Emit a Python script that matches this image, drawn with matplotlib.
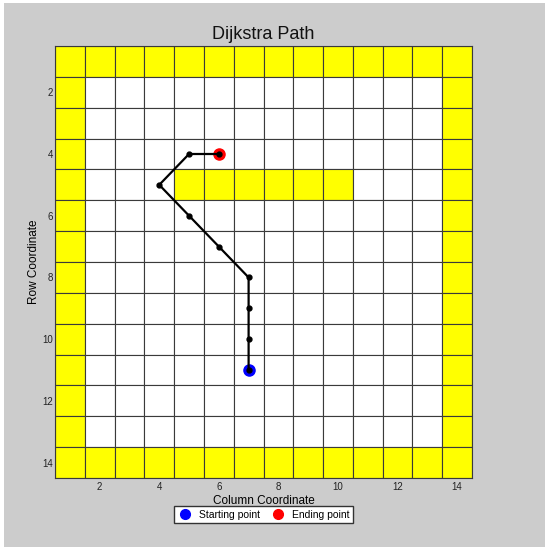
import matplotlib
matplotlib.use("Agg")
import matplotlib.pyplot as plt
from matplotlib.patches import Rectangle
from matplotlib.lines import Line2D

plt.rcParams["font.family"] = ["Liberation Sans", "DejaVu Sans"]

N = 14
# obstacle cells (col, row): border + inner wall on row 5
wall_cols = list(range(5, 11))
wall_row = 5
# path as (col, row), start to end
path_cols = [7, 7, 7, 7, 6, 5, 4, 5, 6]
path_rows = [11, 10, 9, 8, 7, 6, 5, 4, 4]

W, H = 545, 547
GRAY = "#cccccc"
YELLOW = "#ffff00"
LINE = "#3a3a3a"

fig = plt.figure(figsize=(W / 100, H / 100), dpi=100)
fig.set_facecolor(GRAY)
# window frame: thin white strip at top and left
fig.add_artist(Rectangle((0, 1 - 3 / H), 1, 3 / H, transform=fig.transFigure,
                         facecolor="white", edgecolor="none", zorder=-10))
fig.add_artist(Rectangle((0, 0), 4 / W, 1, transform=fig.transFigure,
                         facecolor="white", edgecolor="none", zorder=-10))

ax = fig.add_axes([55 / W, 1 - 478 / H, 417 / W, 432 / H])
ax.set_facecolor("white")

obstacles = set()
for i in range(1, N + 1):
    obstacles.update({(i, 1), (i, N), (1, i), (N, i)})
for c in wall_cols:
    obstacles.add((c, wall_row))

for c in range(1, N + 1):
    for r in range(1, N + 1):
        fc = YELLOW if (c, r) in obstacles else "white"
        ax.add_patch(Rectangle((c - 0.5, r - 0.5), 1, 1, facecolor=fc,
                               edgecolor=LINE, linewidth=0.8))

ax.plot(path_cols[0], path_rows[0], "o", color="blue", markersize=8, zorder=3)
ax.plot(path_cols[-1], path_rows[-1], "o", color="red", markersize=8, zorder=3)
ax.plot(path_cols, path_rows, "-o", color="black", linewidth=1.6,
        markersize=3.5, zorder=4)

ax.set_xlim(0.5, N + 0.5)
ax.set_ylim(N + 0.5, 0.5)
ax.set_xticks(range(2, N + 1, 2))
ax.set_yticks(range(2, N + 1, 2))
ax.tick_params(length=0, labelsize=7, colors="#222222")
ax.tick_params(axis="x", pad=3)
ax.tick_params(axis="y", pad=1.5)
for s in ax.spines.values():
    s.set_color(LINE)
    s.set_linewidth(0.8)

ax.set_title("Dijkstra Path", fontsize=13, color="#111111", pad=5)
ax.set_xlabel("Column Coordinate", fontsize=8.5, labelpad=2)
ax.set_ylabel("Row Coordinate", fontsize=8.5)
ax.yaxis.set_label_coords(-0.036, 0.5)

handles = [
    Line2D([], [], marker="o", linestyle="none", color="blue", markersize=7),
    Line2D([], [], marker="o", linestyle="none", color="red", markersize=7),
]
fig.legend(handles, ["Starting point", "Ending point"], ncol=2, fontsize=7.5,
           loc="center", bbox_to_anchor=(263.5 / W, 1 - 514.5 / H),
           fancybox=False, edgecolor="#333333", framealpha=1,
           handletextpad=0.6, columnspacing=1.0, borderpad=0.3,
           handlelength=1.5)

fig.savefig("out.png", dpi=100, facecolor=GRAY)
